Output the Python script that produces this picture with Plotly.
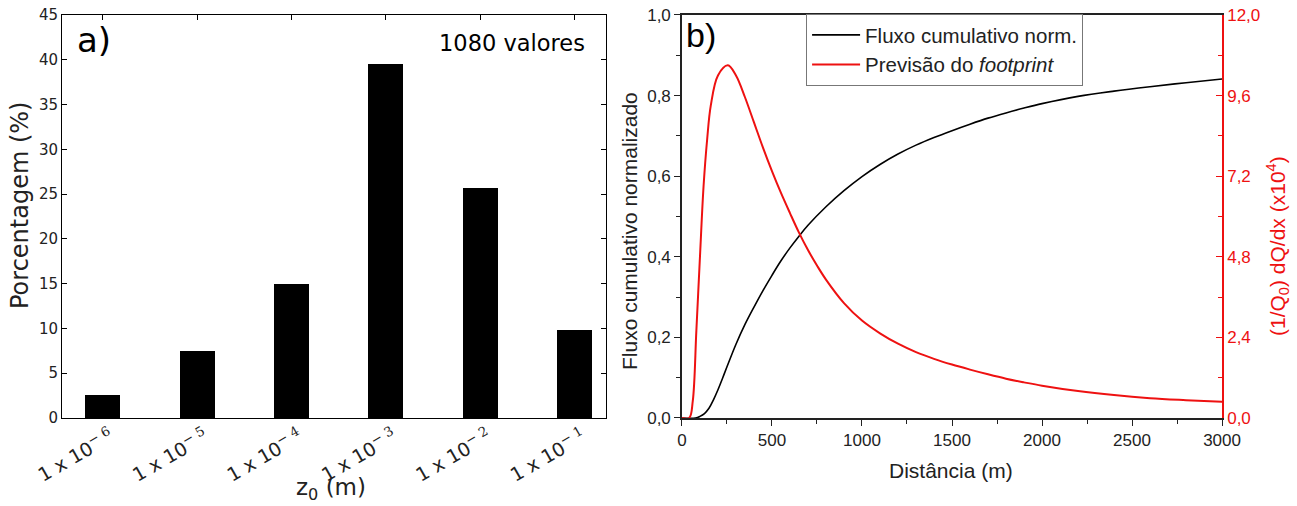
import plotly.graph_objects as go

# Panel a: roughness length distribution
SUP = "<sup><span style='font-family:DejaVu Serif'>− {}</span></sup>"
z0_labels = ["1 x 10" + SUP.format(k) for k in ["6", "5", "4", "3", "2", "1"]]
percent = [2.6, 7.5, 15.0, 39.5, 25.7, 9.8]

# Panel b: cumulative flux and footprint prediction
dist_cum = [0, 75, 100, 125, 150, 175, 200, 225, 250, 300, 350, 400, 450, 500, 550, 600,
            650, 700, 800, 900, 1000, 1100, 1200, 1300, 1400, 1500, 1600, 1700, 1800,
            1900, 2000, 2200, 2400, 2600, 2800, 3000]
flux_cum = [0, 0, 0.004, 0.011, 0.024, 0.045, 0.07, 0.098, 0.127, 0.183, 0.232, 0.275,
            0.316, 0.354, 0.39, 0.422, 0.451, 0.478, 0.524, 0.564, 0.599, 0.629, 0.655,
            0.677, 0.696, 0.713, 0.729, 0.744, 0.757, 0.769, 0.78, 0.798, 0.811, 0.822,
            0.832, 0.841]

dist_fp = [0, 40, 60, 80, 100, 120, 140, 160, 200, 255, 300, 350, 400, 450, 500, 550,
           600, 650, 700, 750, 800, 900, 1000, 1100, 1200, 1300, 1400, 1500, 1600, 1700,
           1800, 1900, 2000, 2200, 2400, 2600, 2800, 3000]
footprint = [0, 0, 0.5, 2.6, 4.8, 6.9, 8.3, 9.3, 10.2, 10.5, 10.2, 9.55, 8.8, 8.05, 7.35,
             6.7, 6.1, 5.52, 5.0, 4.54, 4.12, 3.42, 2.9, 2.52, 2.21, 1.96, 1.76, 1.59,
             1.44, 1.3, 1.17, 1.06, 0.96, 0.8, 0.68, 0.59, 0.53, 0.48]

FONT_A = "DejaVu Sans"
FONT_B = "Liberation Sans"
RED = "#ee1111"
INK = "#222"

fig = go.Figure()

fig.add_trace(go.Bar(x=list(range(len(percent))), y=percent, width=0.37,
                     marker=dict(color="black", line=dict(width=0)),
                     showlegend=False, xaxis="x", yaxis="y"))

fig.add_trace(go.Scatter(x=dist_cum, y=flux_cum, mode="lines", line_shape="spline",
                         line=dict(color="black", width=1.6),
                         name="Fluxo cumulativo norm.", xaxis="x2", yaxis="y2"))
fig.add_trace(go.Scatter(x=dist_fp, y=footprint, mode="lines", line_shape="spline",
                         line=dict(color=RED, width=2),
                         name="Previsão do <i>footprint</i>", xaxis="x2", yaxis="y3"))

ydom = [0.174, 0.9704]

fig.update_layout(
    width=1297, height=506,
    margin=dict(l=0, r=0, t=0, b=0, autoexpand=False),
    paper_bgcolor="white", plot_bgcolor="white",
    separators=",.",
    xaxis=dict(domain=[0.0478, 0.4672], range=[-0.43, 5.33], automargin=False,
               tickmode="array", tickvals=list(range(len(z0_labels))), ticktext=z0_labels,
               tickangle=-30, ticks="inside", ticklen=5, tickcolor="black",
               ticklabelshift=8,
               showline=True, linecolor="black", linewidth=1, mirror="ticks",
               showgrid=False, zeroline=False,
               tickfont=dict(family=FONT_A, size=19, color=INK)),
    yaxis=dict(domain=ydom, range=[0, 45], dtick=5, ticks="inside", ticklen=5,
               automargin=False, tickcolor="black", showline=True, linecolor="black",
               linewidth=1, mirror="ticks", showgrid=False, zeroline=False,
               tickfont=dict(family=FONT_A, size=15, color=INK)),
    xaxis2=dict(domain=[0.5258, 0.9422], anchor="y2", range=[0, 3000], dtick=500,
                automargin=False, tickformat="d", ticks="outside", ticklen=6, tickcolor=INK,
                minor=dict(dtick=250, ticks="outside", ticklen=4, tickcolor=INK),
                showline=True, linecolor=INK, linewidth=1.5, mirror=True,
                showgrid=False, zeroline=False,
                tickfont=dict(family=FONT_B, size=17, color=INK)),
    yaxis2=dict(domain=ydom, anchor="x2", range=[0, 1.0], dtick=0.2, tickformat=".1f",
                automargin=False, ticks="outside", ticklen=6, tickcolor=INK,
                minor=dict(dtick=0.1, ticks="outside", ticklen=4, tickcolor=INK),
                showline=True, linecolor=INK, linewidth=1.5,
                showgrid=False, zeroline=False,
                tickfont=dict(family=FONT_B, size=17, color=INK)),
    yaxis3=dict(overlaying="y2", anchor="x2", side="right", range=[0, 12], dtick=2.4,
                automargin=False, tickformat=".1f", ticks="inside", ticklen=6, tickcolor=RED,
                minor=dict(dtick=1.2, ticks="inside", ticklen=4, tickcolor=RED),
                showline=True, linecolor=RED, linewidth=1.5,
                showgrid=False, zeroline=False,
                tickfont=dict(family=FONT_B, size=17, color=RED)),
    legend=dict(x=0.6215, y=1 - 14 / 506, xanchor="left", yanchor="top",
                bgcolor="white", bordercolor="#777", borderwidth=1,
                font=dict(family=FONT_B, size=20.5, color=INK),
                tracegroupgap=0, itemwidth=48),
    bargap=0,
)


def label(text, x, y, size, family, color=INK, angle=0, xanchor="center", yanchor="middle"):
    fig.add_annotation(text=text, xref="paper", yref="paper", x=x / 1297, y=1 - y / 506,
                       xanchor=xanchor, yanchor=yanchor, showarrow=False, textangle=angle,
                       font=dict(family=family, size=size, color=color))


# Axis titles
label("Porcentagem (%)", 20, 206, 24, FONT_A, angle=-90)
label("z<sub>0</sub> (m)", 331, 489, 23, FONT_A)
label("Fluxo cumulativo normalizado", 629, 231, 21, FONT_B, angle=-90)
label("Distância (m)", 951, 470, 21, FONT_B)
label("(1/Q<sub>0</sub>) dQ/dx (x10<sup>4</sup>)", 1277, 246, 21, FONT_B, color=RED, angle=-90)

# Panel tags and note
label("a)", 75, 18, 34, FONT_A, color="black", xanchor="left", yanchor="top")
label("1080 valores", 587, 28, 22.5, FONT_A, color="black", xanchor="right", yanchor="top")
label("b)", 684, 14, 34, FONT_B, color="black", xanchor="left", yanchor="top")

fig.write_html("out.html")
